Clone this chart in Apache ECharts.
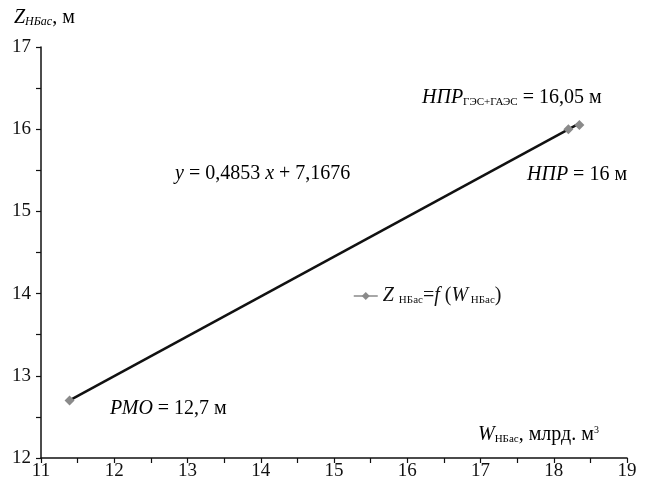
<!DOCTYPE html>
<html><head><meta charset="utf-8">
<script src="https://cdn.jsdelivr.net/npm/echarts@6/dist/echarts.min.js"></script>
<style>html,body{margin:0;padding:0;background:#fff}#c{width:653px;height:484px}</style>
</head><body><div id="c"></div>
<script>
var wValues = [11.39, 18.2, 18.35];
var zValues = [12.7, 16.0, 16.05];
var trendX = [11.39, 18.35];
var trendY = [12.70, 16.07];
var xTicks = [11, 12, 13, 14, 15, 16, 17, 18, 19];
var yTicks = [12, 13, 14, 15, 16, 17];

var F = 'Liberation Serif';
var chart = echarts.init(document.getElementById('c'));
var rich = {
  it: {fontFamily: F, fontSize: 20, fontStyle: 'italic', color: '#111'},
  n: {fontFamily: F, fontSize: 20, color: '#111'},
  sub: {fontFamily: F, fontSize: 11, color: '#111', padding: [8, 0, 0, 0]},
  subi: {fontFamily: F, fontSize: 12, fontStyle: 'italic', color: '#111', padding: [8, 0, 0, 0]},
  sup: {fontFamily: F, fontSize: 10, color: '#111', padding: [0, 0, 10, 0]}
};
chart.setOption({
  animation: false,
  backgroundColor: '#fff',
  grid: {left: 41, right: 26, top: 47, bottom: 26, containLabel: false},
  xAxis: {
    type: 'value', min: xTicks[0], max: xTicks[xTicks.length - 1], interval: 1,
    axisLine: {lineStyle: {color: '#111', width: 1.5}},
    axisTick: {show: true, length: 5, lineStyle: {color: '#111', width: 1.2}},
    minorTick: {show: true, splitNumber: 2, length: 5, lineStyle: {color: '#111', width: 1.2}},
    splitLine: {show: false},
    axisLabel: {fontFamily: F, fontSize: 19, color: '#111', margin: 4}
  },
  yAxis: {
    type: 'value', min: yTicks[0], max: yTicks[yTicks.length - 1], interval: 1,
    axisLine: {show: true, lineStyle: {color: '#111', width: 1.5}},
    axisTick: {show: true, length: 5, lineStyle: {color: '#111', width: 1.2}},
    minorTick: {show: true, splitNumber: 2, length: 5, lineStyle: {color: '#111', width: 1.2}},
    splitLine: {show: false},
    axisLabel: {fontFamily: F, fontSize: 19, color: '#111', margin: 10}
  },
  legend: {
    left: 348, top: 281, itemWidth: 24, itemHeight: 10, itemGap: 2,
    data: ['Z'],
    lineStyle: {color: '#8a8a8a', width: 1.5, opacity: 1},
    formatter: function () { return '{it|Z }{sub|НБас}{n|=}{it|f }{n|(}{it|W}{sub| НБас}{n|)}'; },
    textStyle: {rich: rich}
  },
  graphic: [
    {type: 'text', left: 14, top: 8, style: {text: '{it|Z}{subi|НБас}{n|, м}', rich: rich}},
    {type: 'text', left: 478, top: 425, style: {text: '{it|W}{sub|НБас}{n|, млрд. м}{sup|3}', rich: rich}},
    {type: 'text', left: 175, top: 164, style: {text: '{it|y}{n| = 0,4853 }{it|x}{n| + 7,1676}', rich: rich}},
    {type: 'text', left: 422, top: 88, style: {text: '{it|НПР}{sub|ГЭС+ГАЭС}{n| = 16,05 м}', rich: rich}},
    {type: 'text', left: 527, top: 165, style: {text: '{it|НПР}{n| = 16 м}', rich: rich}},
    {type: 'text', left: 110, top: 399, style: {text: '{it|РМО}{n| = 12,7 м}', rich: rich}}
  ],
  series: [
    {
      name: 'Z', type: 'line', z: 3,
      data: wValues.map(function (w, i) { return [w, zValues[i]]; }),
      symbol: 'diamond', symbolSize: 10, showSymbol: true,
      itemStyle: {color: '#8a8a8a'},
      lineStyle: {color: '#8a8a8a', width: 1, opacity: 0}
    },
    {
      name: 'trend', type: 'line', z: 2,
      data: trendX.map(function (x, i) { return [x, trendY[i]]; }),
      symbol: 'none',
      lineStyle: {color: '#111', width: 2.5}
    }
  ]
});
</script></body></html>
